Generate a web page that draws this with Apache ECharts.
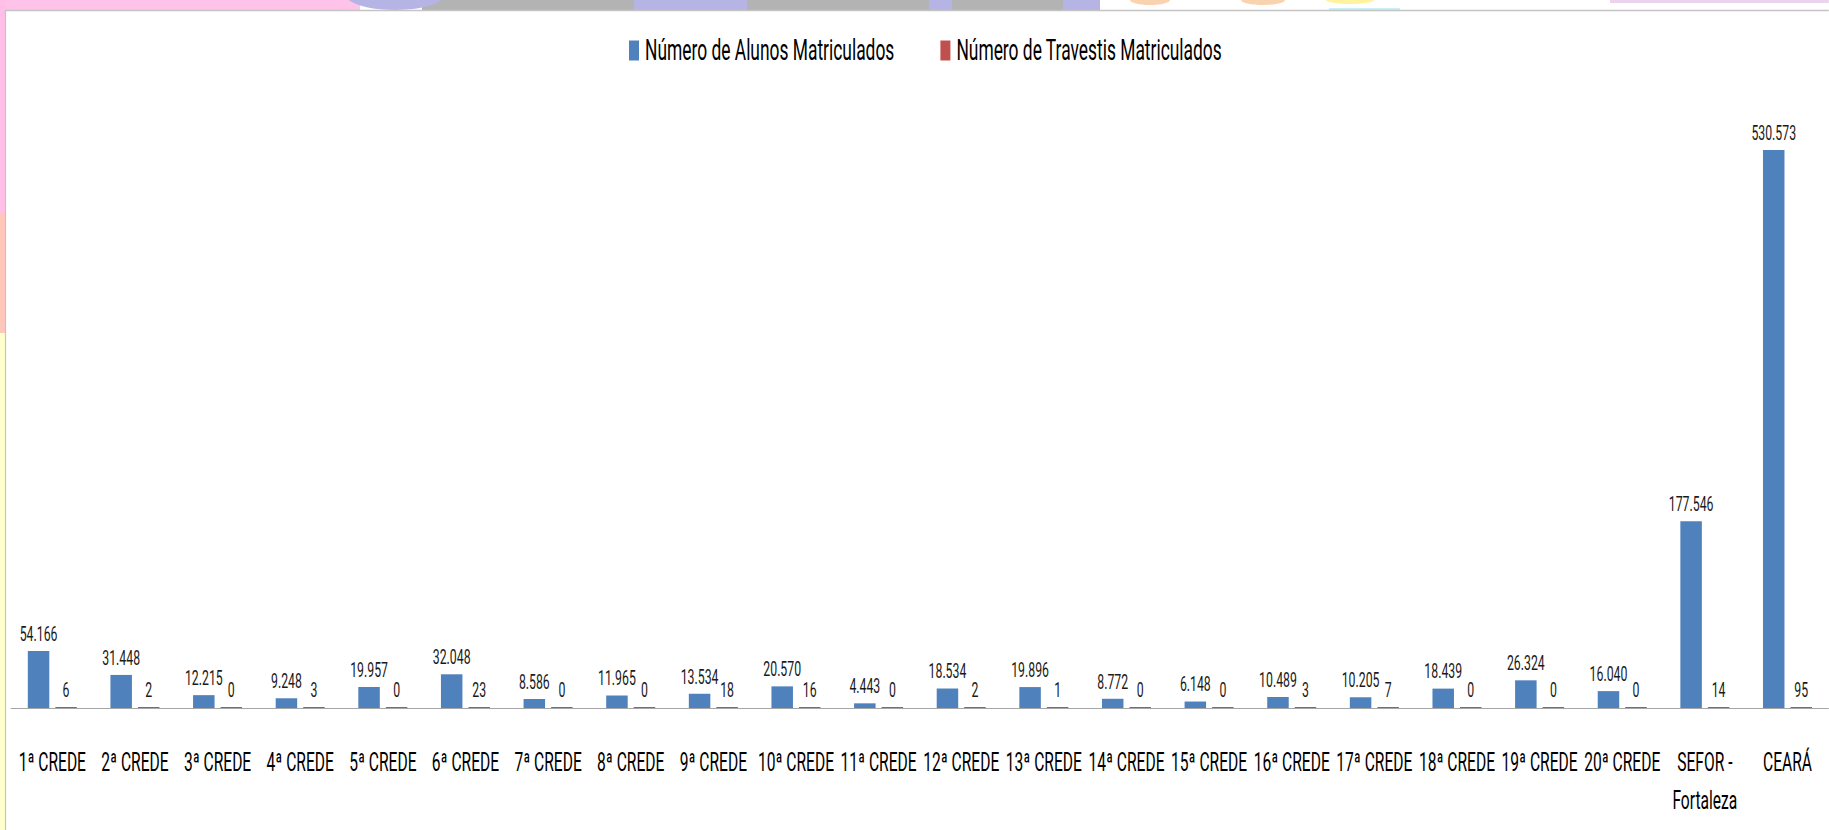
<!DOCTYPE html>
<html>
<head>
<meta charset="utf-8">
<script src="https://cdn.jsdelivr.net/npm/echarts/dist/echarts.min.js"></script>
<style>
html,body{margin:0;padding:0;width:1829px;height:830px;overflow:hidden;background:#ffffff;}
#c{width:3048px;height:830px;transform:scaleX(0.6);transform-origin:0 0;}
</style>
</head>
<body>
<div id="c"></div>
<script>
// ---- data ----
var categories = ['1ª CREDE','2ª CREDE','3ª CREDE','4ª CREDE','5ª CREDE','6ª CREDE','7ª CREDE','8ª CREDE','9ª CREDE','10ª CREDE',
  '11ª CREDE','12ª CREDE','13ª CREDE','14ª CREDE','15ª CREDE','16ª CREDE','17ª CREDE','18ª CREDE','19ª CREDE','20ª CREDE',
  'SEFOR -\nFortaleza','CEARÁ'];
var alunos = [54166,31448,12215,9248,19957,32048,8586,11965,13534,20570,4443,18534,19896,8772,6148,10489,10205,18439,26324,16040,177546,530573];
var travestis = [6,2,0,3,0,23,0,0,18,16,0,2,1,0,0,3,7,0,0,0,14,95];
var seriesNames = ['Número de Alunos Matriculados','Número de Travestis Matriculados'];
var yMax = 600000;

// ---- layout helpers (page is drawn wide, then squeezed horizontally like the original) ----
var S = 0.6;
function X(px){ return px / S; }
function fmt(v){ return String(v).replace(/\B(?=(\d{3})+(?!\d))/g, '.'); }
var FONT = 'Roboto, "Liberation Sans", sans-serif';

function rect(x0,x1,y0,y1,color){
  return {type:'rect', silent:true, z:-10, shape:{x:X(x0), y:y0, width:X(x1-x0), height:y1-y0}, style:{fill:color}};
}
function blob(cx,cy,rx,ry,color){
  return {type:'ellipse', silent:true, z:-9, shape:{cx:X(cx), cy:cy, rx:X(rx), ry:ry}, style:{fill:color}};
}

var decorations = [
  rect(0,1829,0,10,'#ffffff'),
  rect(0,360,0,10,'#ffc2e8'),
  blob(395,-6,50,16,'#b6b4e4'),
  rect(422,634,0,10,'#b3b3b3'),
  rect(634,747,0,10,'#b6b4e4'),
  rect(747,929,0,10,'#b3b3b3'),
  rect(929,952,0,10,'#b6b4e4'),
  rect(952,1063,0,10,'#b3b3b3'),
  rect(1063,1100,0,10,'#b6b4e4'),
  blob(1150,0,20,5,'#f9d2b0'),
  blob(1263,0,22,5,'#f9d2b0'),
  blob(1350,0,24,4,'#fff3a0'),
  rect(1329,1400,8,10,'#c8f0f6'),
  rect(1610,1829,0,3,'#ecd4ee'),
  rect(0,5,0,213,'#ffbfe6'),
  rect(0,5,213,333,'#ffc6ba'),
  rect(0,5,333,830,'#ffffcc'),
  {type:'line', silent:true, z:-8, shape:{x1:X(5), y1:10.5, x2:X(1829), y2:10.5}, style:{stroke:'#c4c4c4', lineWidth:1.5}},
  {type:'line', silent:true, z:-8, shape:{x1:X(5.5), y1:10, x2:X(5.5), y2:830}, style:{stroke:'#c4c4c4', lineWidth:X(1.2)}}
];

var chart = echarts.init(document.getElementById('c'), null, {renderer:'svg'});
chart.setOption({
  backgroundColor:'transparent',
  animation:false,
  graphic: decorations,
  legend:{
    left: X(626), top: 31,
    itemWidth: X(10), itemHeight: 20, itemGap: X(46),
    icon:'rect',
    textStyle:{fontFamily:FONT, fontSize:29, color:'#000', padding:[0,0,0,X(6)-5]},
    data: seriesNames
  },
  grid:{left: X(11), right: 0, top: 77, bottom: 122, containLabel:false},
  xAxis:{
    type:'category', data: categories,
    axisLine:{show:true, lineStyle:{color:'#a6a6a6', width:1.2}},
    axisTick:{show:false},
    axisLabel:{interval:0, fontFamily:FONT, fontSize:26, lineHeight:38, color:'#000', margin:35}
  },
  yAxis:{type:'value', min:0, max:yMax, show:false, splitLine:{show:false}},
  series:[
    {name:seriesNames[0], type:'bar', data:alunos, barWidth:X(21.5), barGap:'28%',
     itemStyle:{color:'#4f81bd'},
     label:{show:true, position:'top', distance:7, fontFamily:FONT, fontSize:20.5, color:'#1a1a1a',
            formatter:function(p){return fmt(p.value);}}},
    {name:seriesNames[1], type:'bar', data:travestis, barWidth:X(21.5), barMinHeight:1,
     itemStyle:{color:'#c0504d'},
     label:{show:true, position:'top', distance:7, fontFamily:FONT, fontSize:20.5, color:'#1a1a1a',
            formatter:function(p){return fmt(p.value);}}}
  ]
});
</script>
</body>
</html>
